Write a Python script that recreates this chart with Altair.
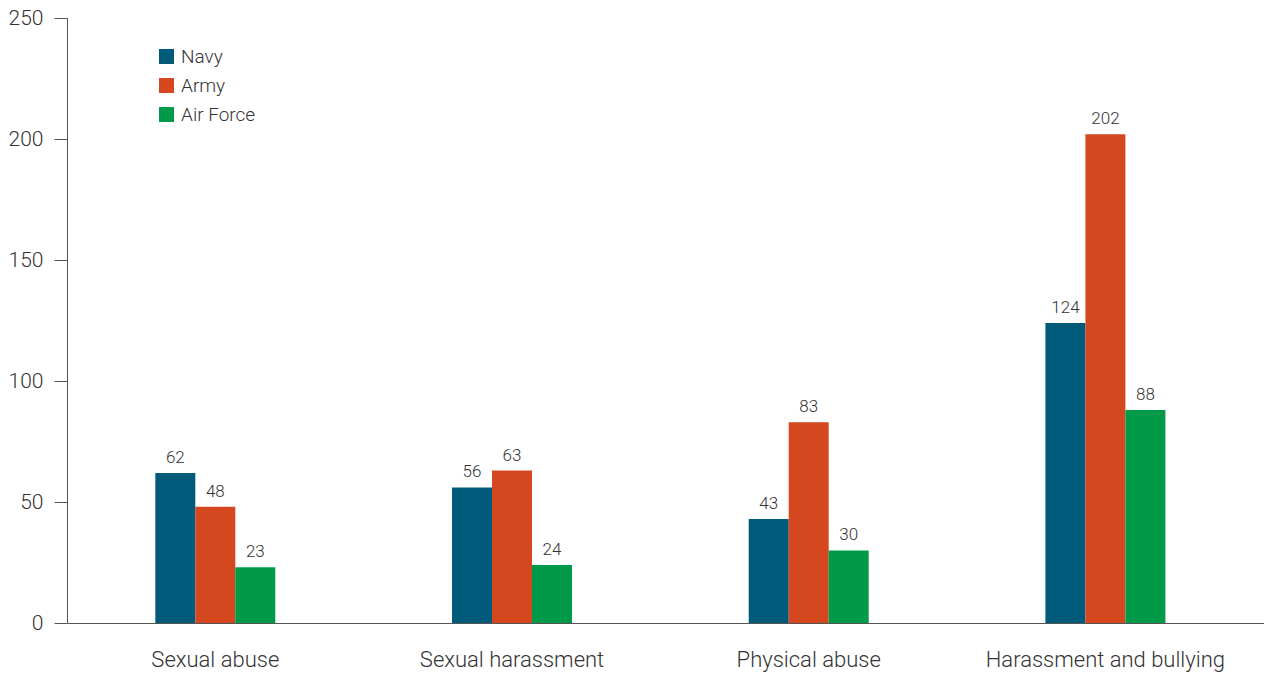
import altair as alt
import pandas as pd

categories = ["Sexual abuse", "Sexual harassment", "Physical abuse", "Harassment and bullying"]
services = ["Navy", "Army", "Air Force"]
navy = [62, 56, 43, 124]
army = [48, 63, 83, 202]
air_force = [23, 24, 30, 88]
colors = ["#005b7b", "#d4471f", "#009a49"]
y_ticks = [0, 50, 100, 150, 200, 250]

rows = []
for i, c in enumerate(categories):
    for s, vals in zip(services, [navy, army, air_force]):
        rows.append({"category": c, "service": s, "value": vals[i]})
df = pd.DataFrame(rows)

FONT = "Roboto"
TXT = "#333333"
W = 300

x_enc = alt.X("category:N", sort=categories, title=None,
              scale=alt.Scale(paddingInner=0.5956, paddingOuter=0.315, align=0.4725),
              axis=alt.Axis(ticks=False, labelPadding=26, labelAngle=0, labelLimit=0,
                            labelFontSize=22, labelColor=TXT, labelFont=FONT,
                            labelFontWeight=W,
                            domainColor="#555555", labelBaseline="top"))
xo_enc = alt.XOffset("service:N", sort=services,
                     scale=alt.Scale(paddingInner=0, paddingOuter=0))
y_enc = alt.Y("value:Q", title=None,
              scale=alt.Scale(domain=[0, 250], nice=False),
              axis=alt.Axis(values=y_ticks, grid=False, tickSize=13, labelPadding=11,
                            labelFontSize=21, labelColor=TXT, labelFont=FONT,
                            labelFontWeight=W,
                            domainColor="#555555", tickColor="#555555"))

bars = alt.Chart(df).mark_bar().encode(
    x=x_enc, xOffset=xo_enc, y=y_enc,
    color=alt.Color("service:N", sort=services,
                    scale=alt.Scale(domain=services, range=colors),
                    legend=alt.Legend(title=None, orient="none", legendX=90, legendY=29,
                                      symbolType="square", symbolSize=225,
                                      symbolStrokeWidth=0,
                                      labelFontSize=19, labelFont=FONT, labelColor=TXT,
                                      labelFontWeight=W,
                                      labelOffset=5, rowPadding=9, padding=0))
)

labels = alt.Chart(df).mark_text(baseline="bottom", dy=-6, fontSize=17, font=FONT,
                                 fontWeight=W, color=TXT).encode(
    x=alt.X("category:N", sort=categories),
    xOffset=alt.XOffset("service:N", sort=services),
    y="value:Q",
    text="value:Q",
)

chart = alt.layer(bars, labels).properties(
    width=1197, height=605,
    padding={"left": 59, "top": 10, "right": 0, "bottom": 52},
    autosize=alt.AutoSizeParams(type="none"),
).configure_view(stroke=None).configure_axis(domainWidth=1, tickWidth=1)

chart.save("out.html", embed_options={"renderer": "svg", "actions": False})
